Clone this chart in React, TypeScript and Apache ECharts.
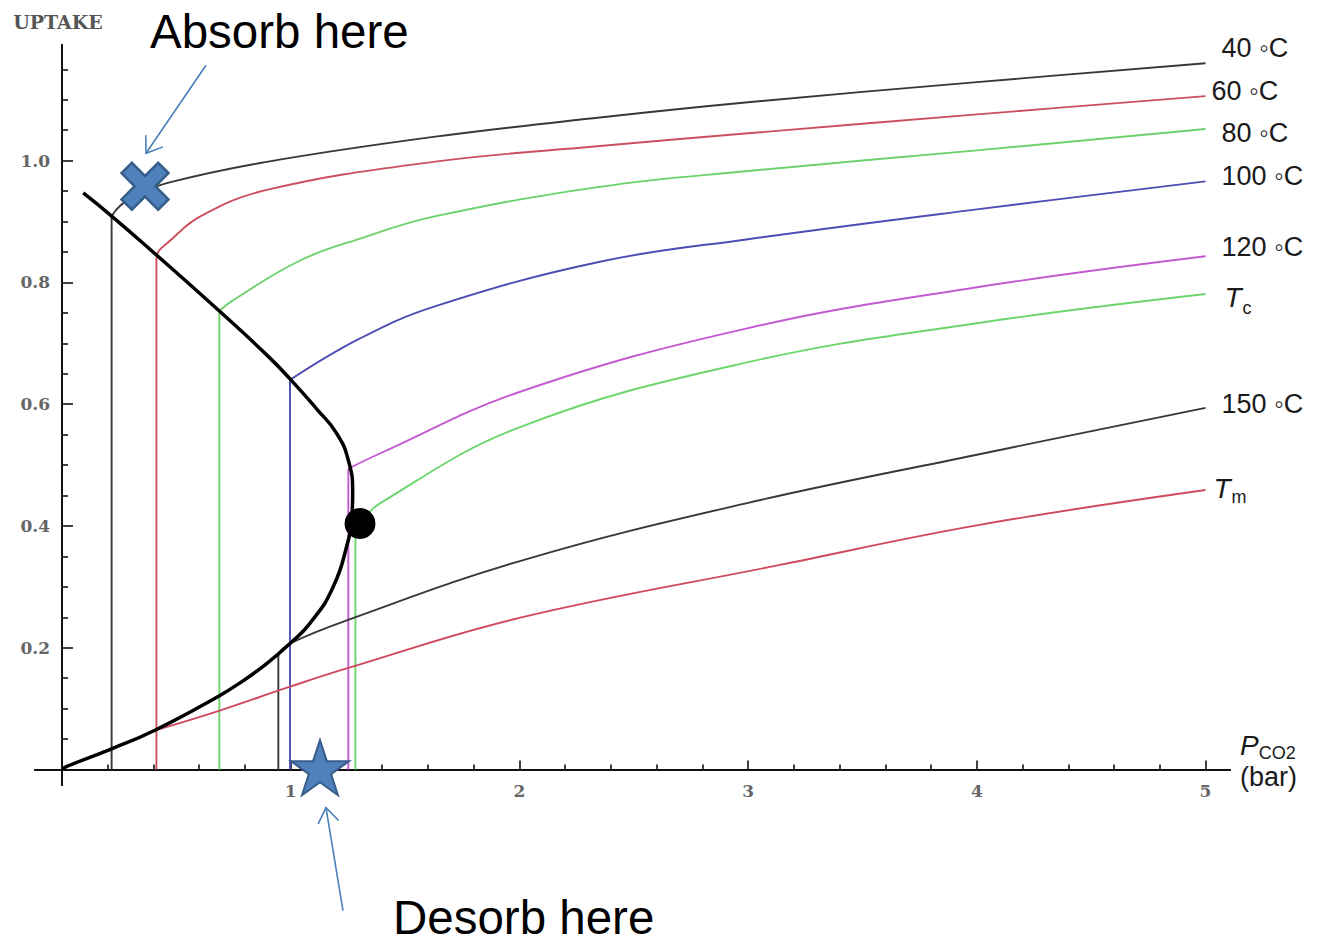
import { useEffect, useRef } from 'react';
import * as echarts from 'echarts';

// ---- axis ticks and labels ----
const X_LABEL_TICKS = [1, 2, 3, 4, 5];
const X_MINOR_TICKS = [0.2, 0.4, 0.6, 0.8, 1.2, 1.4, 1.6, 1.8, 2.2, 2.4, 2.6, 2.8, 3.2, 3.4, 3.6, 3.8, 4.2, 4.4, 4.6, 4.8];
const Y_LABEL_TICKS = [0.2, 0.4, 0.6, 0.8, 1.0];
const Y_MINOR_TICKS = [0.05, 0.1, 0.15, 0.25, 0.3, 0.35, 0.45, 0.5, 0.55, 0.65, 0.7, 0.75, 0.85, 0.9, 0.95, 1.05, 1.1, 1.15];

// ---- isotherms: vertical rise at the step pressure, then the uptake curve ----
const RISE_40 = [[0.217, 0], [0.217, 0.909]];
const CURVE_40 = [[0.217, 0.909], [0.254, 0.926], [0.312, 0.941], [0.458, 0.963], [0.895, 0.998], [1.624, 1.039], [2.352, 1.071], [3, 1.096], [4, 1.129], [5, 1.16]];
const RISE_60 = [[0.413, 0], [0.413, 0.845]];
const CURVE_60 = [[0.413, 0.845], [0.428, 0.854], [0.458, 0.864], [0.603, 0.908], [0.895, 0.952], [1.624, 0.998], [2.352, 1.024], [3, 1.045], [4, 1.076], [5, 1.106]];
const RISE_80 = [[0.688, 0], [0.688, 0.753]];
const CURVE_80 = [[0.688, 0.753], [0.749, 0.771], [1.041, 0.836], [1.303, 0.872], [1.624, 0.908], [2.352, 0.957], [3, 0.983], [4, 1.017], [5, 1.052]];
const RISE_100 = [[0.997, 0], [0.997, 0.64]];
const CURVE_100 = [[0.997, 0.64], [1.303, 0.708], [1.624, 0.76], [2.352, 0.834], [3, 0.871], [4, 0.92], [5, 0.966]];
const RISE_120 = [[1.252, 0], [1.252, 0.494]];
const CURVE_120 = [[1.252, 0.494], [1.39, 0.519], [2, 0.62], [3, 0.725], [4, 0.792], [5, 0.843]];
const RISE_TC = [[1.283, 0], [1.283, 0.404]];
const CURVE_TC = [[1.303, 0.404], [1.39, 0.437], [2, 0.562], [3, 0.669], [4, 0.733], [5, 0.781]];
const RISE_150 = [[0.946, 0], [0.946, 0.19]];
const CURVE_150 = [[0.946, 0.19], [0.997, 0.207], [1.245, 0.245], [2.017, 0.344], [3, 0.438], [4, 0.517], [5, 0.594]];
const CURVE_TM = [[0.404, 0.064], [0.683, 0.096], [0.997, 0.136], [1.245, 0.166], [2, 0.249], [3.139, 0.336], [4, 0.401], [5, 0.459]];

// ---- phase boundary (step locus) ----
const BINODAL = [
  [0.093, 0.947], [0.217, 0.909], [0.413, 0.845], [0.688, 0.753], [0.895, 0.681], [1.001, 0.64],
  [1.114, 0.592], [1.201, 0.552], [1.252, 0.508], [1.271, 0.454], [1.267, 0.41], [1.252, 0.377],
  [1.186, 0.3], [1.084, 0.24], [0.997, 0.207], [0.895, 0.174], [0.793, 0.146], [0.683, 0.12],
  [0.404, 0.064], [0.217, 0.034], [0.021, 0.005], [0, 0],
];

// ---- special points ----
const CRITICAL_POINT = [1.303, 0.404];
const ABSORB_POINT = [0.363, 0.958];
const DESORB_POINT = [1.128, 0.003];

const ISOTHERM_LABELS = ['40 ◦C', '60 ◦C', '80 ◦C', '100 ◦C', '120 ◦C', '{t|T}{s|c}', '150 ◦C', '{t|T}{s|m}'];

const SANS = '"Liberation Sans", Arial, sans-serif';
const SERIF = '"DejaVu Serif", serif';
const INK = '#1a1a1a';
const MARK_FILL = '#4F81BD';
const MARK_EDGE = '#385D8A';
const ARROW = '#4A7EBB';

const CROSS_PATH = 'path://M0 22 L22 0 L50 28 L78 0 L100 22 L72 50 L100 78 L78 100 L50 72 L22 100 L0 78 L28 50 Z';
const STAR_PATH = 'path://M50 0 L61.23 34.55 L97.55 34.55 L68.17 55.9 L79.39 90.45 L50 69.1 L20.61 90.45 L31.83 55.9 L2.45 34.55 L38.77 34.55 Z';

const subRich = (fontSize: number, drop: number) => ({
  t: { fontStyle: 'italic', fontSize, lineHeight: fontSize + 4, fontFamily: SANS, color: INK },
  s: { fontSize: 18, lineHeight: 20, padding: [drop, 0, 0, 1], fontFamily: SANS, color: INK },
});

function arrowHead(tip: number[], tail: number[], len: number, spreadDeg: number) {
  const ang = Math.atan2(tail[1] - tip[1], tail[0] - tip[0]);
  const s = (spreadDeg * Math.PI) / 180;
  return [
    [tip[0] + len * Math.cos(ang - s), tip[1] + len * Math.sin(ang - s)],
    [tip[0], tip[1]],
    [tip[0] + len * Math.cos(ang + s), tip[1] + len * Math.sin(ang + s)],
  ];
}

export default function App() {
  const ref = useRef<HTMLDivElement>(null);

  useEffect(() => {
    if (!ref.current) return;
    const chart = echarts.init(ref.current, null, { renderer: 'svg' });

    const isotherms = [
      { rise: RISE_40, curve: CURVE_40, color: '#383838', offset: [16, -15] },
      { rise: RISE_60, curve: CURVE_60, color: '#cc4f5f', offset: [6, -5] },
      { rise: RISE_80, curve: CURVE_80, color: '#6cd26c', offset: [16, 4] },
      { rise: RISE_100, curve: CURVE_100, color: '#4d4db4', offset: [16, -5] },
      { rise: RISE_120, curve: CURVE_120, color: '#c45ad0', offset: [16, -9] },
      { rise: RISE_TC, curve: CURVE_TC, color: '#6cd66c', offset: [19, 3] },
      { rise: RISE_150, curve: CURVE_150, color: '#383838', offset: [16, -4] },
      { rise: null, curve: CURVE_TM, color: '#d04a5e', offset: [8, -2] },
    ];

    const series: any[] = [];
    isotherms.forEach((iso, i) => {
      const lineStyle = { color: iso.color, width: 1.9 };
      if (iso.rise) {
        series.push({ type: 'line', data: iso.rise, symbol: 'none', lineStyle, silent: true, z: 2 });
      }
      series.push({
        type: 'line',
        data: iso.curve,
        symbol: 'none',
        smooth: 0.4,
        lineStyle,
        silent: true,
        z: 2,
        endLabel: {
          show: true,
          formatter: ISOTHERM_LABELS[i],
          distance: 0,
          offset: iso.offset,
          color: INK,
          fontSize: 27,
          fontFamily: SANS,
          rich: i === 5 ? subRich(28, 22) : subRich(28, 18),
        },
      });
    });

    series.push({
      type: 'line', data: BINODAL, symbol: 'none', smooth: 0.5,
      lineStyle: { color: '#000', width: 3.5 }, silent: true, z: 3,
    });
    series.push({
      type: 'scatter', data: [CRITICAL_POINT], symbol: 'circle', symbolSize: 31,
      itemStyle: { color: '#000', opacity: 1 }, silent: true, z: 4,
    });
    series.push({
      type: 'scatter', data: [ABSORB_POINT], symbol: CROSS_PATH, symbolSize: 47, clip: false,
      itemStyle: { color: MARK_FILL, borderColor: MARK_EDGE, borderWidth: 2.5, opacity: 1 }, silent: true, z: 5,
    });
    series.push({
      type: 'scatter', data: [DESORB_POINT], symbol: STAR_PATH, symbolSize: [58, 55], clip: false,
      itemStyle: { color: MARK_FILL, borderColor: MARK_EDGE, borderWidth: 2, opacity: 1 }, silent: true, z: 5,
    });

    const axisLine = { color: '#111', width: 2 };
    const tickLine = { color: '#111', width: 1.6 };
    const labelFont = { color: '#666', fontFamily: SERIF, fontWeight: 'bold', fontSize: 17 };
    const X_MIN = -0.118, X_MAX = 5.107, Y_MIN = -0.0255, Y_MAX = 1.19;

    chart.setOption({
      animation: false,
      backgroundColor: '#fff',
      grid: { left: 35, right: 88, top: 45, bottom: 158, containLabel: false, outerBoundsMode: 'none' },
      xAxis: [
        {
          type: 'value', min: X_MIN, max: X_MAX, position: 'bottom',
          axisLine: { show: true, onZero: true, onZeroAxisIndex: 0, lineStyle: axisLine },
          axisTick: { show: true, inside: true, length: 9, customValues: X_LABEL_TICKS, lineStyle: tickLine },
          axisLabel: { show: true, customValues: X_LABEL_TICKS, margin: -3, formatter: (v: number) => String(Math.round(v)), ...labelFont },
          splitLine: { show: false },
          name: '{p|P}{s|CO2}\n{b|(bar)}',
          nameLocation: 'end',
          nameGap: 10,
          nameTextStyle: {
            align: 'left',
            padding: [0, 0, 16, 0],
            rich: {
              p: { fontStyle: 'italic', fontSize: 28, lineHeight: 32, fontFamily: SANS, color: INK },
              s: { fontSize: 18, lineHeight: 20, padding: [16, 0, 0, 0], fontFamily: SANS, color: INK },
              b: { fontSize: 27, lineHeight: 32, fontFamily: SANS, color: INK },
            },
          },
        },
        {
          type: 'value', min: X_MIN, max: X_MAX, position: 'bottom',
          axisLine: { show: true, onZero: true, onZeroAxisIndex: 0, lineStyle: axisLine },
          axisTick: { show: true, inside: true, length: 5, customValues: X_MINOR_TICKS, lineStyle: tickLine },
          axisLabel: { show: false },
          splitLine: { show: false },
        },
      ],
      yAxis: [
        {
          type: 'value', min: Y_MIN, max: Y_MAX, position: 'left',
          axisLine: { show: true, onZero: true, onZeroAxisIndex: 0, lineStyle: axisLine },
          axisTick: { show: true, inside: true, length: 11, customValues: Y_LABEL_TICKS, lineStyle: tickLine },
          axisLabel: { show: true, customValues: Y_LABEL_TICKS, margin: -15, formatter: (v: number) => v.toFixed(1), ...labelFont },
          splitLine: { show: false },
          name: 'UPTAKE',
          nameLocation: 'end',
          nameGap: 14,
          nameTextStyle: { color: '#555', fontFamily: SERIF, fontWeight: 'bold', fontSize: 19, padding: [0, 8, 0, 0] },
        },
        {
          type: 'value', min: Y_MIN, max: Y_MAX, position: 'left',
          axisLine: { show: true, onZero: true, onZeroAxisIndex: 0, lineStyle: axisLine },
          axisTick: { show: true, inside: true, length: 6, customValues: Y_MINOR_TICKS, lineStyle: tickLine },
          axisLabel: { show: false },
          splitLine: { show: false },
        },
      ],
      series,
    });

    // Annotations placed relative to the marked points
    const finder = { xAxisIndex: 0, yAxisIndex: 0 };
    const a = chart.convertToPixel(finder, ABSORB_POINT) as number[];
    const d = chart.convertToPixel(finder, DESORB_POINT) as number[];
    const aTip = [a[0] + 1, a[1] - 33];
    const aTail = [a[0] + 61, a[1] - 121];
    const dTip = [d[0] + 6, d[1] + 40];
    const dTail = [d[0] + 23, d[1] + 143];
    const arrowStyle = { stroke: ARROW, lineWidth: 1.6, fill: null };

    chart.setOption({
      graphic: [
        { type: 'line', silent: true, shape: { x1: aTail[0], y1: aTail[1], x2: aTip[0], y2: aTip[1] }, style: arrowStyle },
        { type: 'polyline', silent: true, shape: { points: arrowHead(aTip, aTail, 18, 35) }, style: arrowStyle },
        { type: 'line', silent: true, shape: { x1: dTail[0], y1: dTail[1], x2: dTip[0], y2: dTip[1] }, style: arrowStyle },
        { type: 'polyline', silent: true, shape: { points: arrowHead(dTip, dTail, 18, 35) }, style: arrowStyle },
        {
          type: 'text', silent: true, x: a[0] + 5, y: a[1] - 155,
          style: { text: 'Absorb here', fill: '#000', fontSize: 47.5, fontFamily: SANS, align: 'left', verticalAlign: 'middle' },
        },
        {
          type: 'text', silent: true, x: d[0] + 73, y: d[1] + 150,
          style: { text: 'Desorb here', fill: '#000', fontSize: 47.5, fontFamily: SANS, align: 'left', verticalAlign: 'middle' },
        },
      ],
    });

    return () => chart.dispose();
  }, []);

  return (
    <div
      ref={ref}
      style={{ position: 'absolute', left: 0, top: 0, width: 1318, height: 943, background: '#fff' }}
    />
  );
}
